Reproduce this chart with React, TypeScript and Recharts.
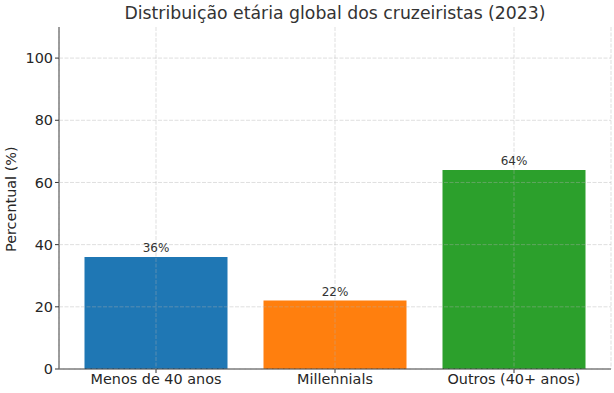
import React from "react";
import { BarChart, Bar, XAxis, YAxis, CartesianGrid, Cell, LabelList } from "recharts";

const categories = ["Menos de 40 anos", "Millennials", "Outros (40+ anos)"];
const values = [36, 22, 64];
const colors = ["#1f77b4", "#ff7f0e", "#2ca02c"];
const yTicks = [0, 20, 40, 60, 80, 100];

const data = categories.map((name, i) => ({ name, value: values[i] }));

const FONT = "'DejaVu Sans', sans-serif";

export default function App() {
  return (
    <div style={{ position: "absolute", left: 0, top: 0, width: 614, height: 393, fontFamily: FONT, background: "#fff" }}>
      <div
        style={{
          position: "absolute",
          left: 59,
          width: 552,
          top: 3,
          textAlign: "center",
          fontSize: 17.3,
          color: "#333",
          fontFamily: FONT,
          lineHeight: "20px",
          whiteSpace: "nowrap",
        }}
      >
        Distribuição etária global dos cruzeiristas (2023)
      </div>
      <BarChart
        width={614}
        height={393}
        data={data}
        margin={{ top: 27, right: 3, bottom: 0, left: 0 }}
        barSize={143}
      >
        <XAxis
          dataKey="name"
          height={24}
          padding={{ left: 7.5, right: 7.5 }}
          tick={{ fontSize: 14.4, fill: "#262626", fontFamily: FONT }}
          tickSize={4}
          tickMargin={1}
          stroke="#333"
          axisLine={{ stroke: "#333" }}
          tickLine={{ stroke: "#333" }}
        />
        <YAxis
          width={59}
          domain={[0, 110]}
          ticks={yTicks}
          interval={0}
          allowDataOverflow
          tick={{ fontSize: 14.4, fill: "#262626", fontFamily: FONT }}
          tickSize={4}
          tickMargin={2}
          stroke="#333"
          label={{
            value: "Percentual (%)",
            angle: -90,
            position: "insideLeft",
            dx: 6,
            dy: 54,
            style: { fontSize: 14.4, fill: "#262626", fontFamily: FONT },
          }}
        />
        <Bar dataKey="value" isAnimationActive={false}>
          {data.map((d, i) => (
            <Cell key={d.name} fill={colors[i]} />
          ))}
          <LabelList
            dataKey="value"
            position="top"
            offset={5}
            formatter={(v: any) => `${v}%`}
            style={{ fontSize: 12, fill: "#333", fontFamily: FONT }}
          />
        </Bar>
        <CartesianGrid
          stroke="#b0b0b0"
          strokeOpacity={0.5}
          strokeDasharray="4 1.5"
          strokeWidth={0.8}
          horizontalValues={yTicks}
          zIndex={1000}
        />
      </BarChart>
    </div>
  );
}
